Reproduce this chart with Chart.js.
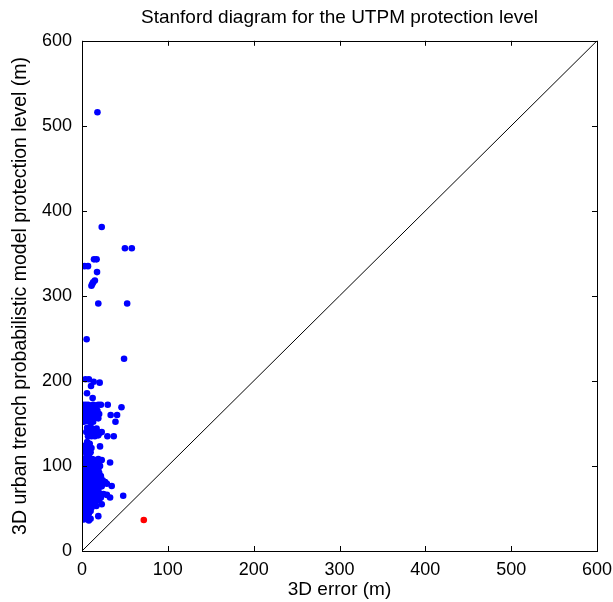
<!DOCTYPE html>
<html>
<head>
<meta charset="utf-8">
<script src="https://cdn.jsdelivr.net/npm/chart.js@4"></script>
<style>
  html, body { margin: 0; padding: 0; background: #fff; }
  #wrap { width: 613px; height: 602px; }
</style>
</head>
<body>
<div id="wrap"><canvas id="stanford"></canvas></div>
<script>
// 3D error (m) and UTPM protection level (m), blue = PL above error
const erroAzul = [
  18, 23, 50, 58, 14, 17, 3, 7, 17.5, 11, 13, 15, 12, 19, 52.6, 5.4, 49,
  4, 8, 13.6, 20.6, 10.5, 5.8, 12.4,
  1, 4, 7, 10, 13, 16, 19, 22, 30, 46,
  1, 4, 8, 11, 15, 18, 2, 6, 9, 13, 17, 20, 1, 4, 8, 12, 16, 19, 2, 6, 10, 13, 33.4, 40.9, 39, 10,
  6, 9, 13, 17, 5, 8, 11, 14, 18, 21, 23, 7, 11, 15, 19, 29.6, 37,
  6, 9, 4, 8, 11, 3, 6, 10, 5, 8, 21,
  2, 5, 8, 12, 15, 19, 23, 32.7,
  1, 4, 7, 10, 14, 17, 20,
  2, 5, 8, 11, 14, 18, 21,
  1, 4, 7, 10, 13, 16, 19,
  2, 5, 8, 11, 14, 17, 20,
  1, 4, 7, 10, 13, 16, 19, 22,
  2, 5, 8, 11, 14, 17, 20, 24, 27,
  1, 4, 7, 10, 13, 16, 19, 22, 29, 34.6,
  2, 5, 8, 11, 14, 17, 20, 23,
  1, 4, 7, 10, 13, 16, 19,
  2, 5, 8, 11, 14, 17, 20, 25, 29, 32.7, 48,
  1, 4, 7, 10, 13, 16, 19, 22,
  2, 5, 8, 11, 14, 17, 20,
  1, 4, 7, 10, 13, 16.7, 23,
  2, 5, 8, 11,
  1, 4, 7, 10,
  2, 5, 8,
  4, 7, 10, 6, 19, 2, 8
];
const plAzul = [
  516, 381, 356, 356, 343, 343, 335, 335, 328, 312, 316, 318, 314, 291, 291, 249, 226,
  202, 202, 199, 198, 194, 185.5, 180,
  172, 172, 172, 171, 172, 171, 172, 172, 172, 169,
  167, 166, 167, 166, 166, 165, 162, 161, 162, 161, 160, 161, 157, 156, 157, 156, 157, 156, 152, 153, 152, 152, 160, 160, 152, 146,
  145, 144, 143, 144, 140, 139, 140, 139, 140, 139, 140, 135, 135, 135, 136, 135, 135,
  128, 126, 124, 122, 121, 118, 117, 116, 114, 112, 123,
  108, 108, 107, 108, 107, 108, 107, 104,
  104, 103, 104, 103, 104, 103, 104,
  100, 99, 100, 99, 100, 99, 100,
  96, 95, 96, 95, 96, 95, 96,
  92, 91, 92, 91, 92, 91, 92,
  88, 87, 88, 87, 88, 87, 88, 88,
  84, 83, 84, 83, 84, 83, 84, 83, 81,
  80, 79, 80, 79, 80, 79, 80, 80, 79, 76.5,
  76, 75, 76, 75, 76, 75, 76, 76,
  72, 71, 72, 71, 72, 71, 72,
  68, 67, 68, 67, 68, 67, 68, 67, 66, 63, 65,
  64, 63, 64, 63, 64, 63, 64, 63,
  60, 59, 60, 59, 60, 59, 60,
  56, 55, 56, 55, 56, 53, 55,
  52, 51, 52, 51,
  48, 47, 48, 47,
  44, 43, 44,
  40, 39, 38, 41, 41, 37, 36
];
// red = misleading information (PL below error)
const erroVermelho = [72];
const plVermelho = [36.5];
const diagonal = [0, 600];
const marcas = [0, 100, 200, 300, 400, 500, 600];

const fonte = '"Liberation Sans", Arial, sans-serif';

const moldura = {
  id: 'moldura',
  afterDraw(chart) {
    const { ctx, chartArea: a, scales: { x, y } } = chart;
    const t = 5;
    ctx.save();
    ctx.strokeStyle = '#000';
    ctx.lineWidth = 1;
    ctx.beginPath();
    marcas.forEach(v => {
      const px = Math.round(x.getPixelForValue(v)) + 0.5;
      ctx.moveTo(px, a.bottom); ctx.lineTo(px, a.bottom - t);
      ctx.moveTo(px, a.top); ctx.lineTo(px, a.top + t);
      const py = Math.round(y.getPixelForValue(v)) + 0.5;
      ctx.moveTo(a.left, py); ctx.lineTo(a.left + t, py);
      ctx.moveTo(a.right, py); ctx.lineTo(a.right - t, py);
    });
    ctx.stroke();
    ctx.strokeRect(Math.round(a.left) + 0.5, Math.round(a.top) + 0.5,
      Math.round(a.right - a.left), Math.round(a.bottom - a.top));
    ctx.restore();
  }
};

new Chart(document.getElementById('stanford'), {
  type: 'scatter',
  data: {
    datasets: [
      {
        label: 'PL > erro',
        data: erroAzul.map((e, i) => ({ x: e, y: plAzul[i] })),
        backgroundColor: '#0000ff',
        borderColor: '#0000ff',
        pointRadius: 3.3,
        borderWidth: 0
      },
      {
        label: 'PL < erro',
        data: erroVermelho.map((e, i) => ({ x: e, y: plVermelho[i] })),
        backgroundColor: '#ff0000',
        borderColor: '#ff0000',
        pointRadius: 3.3,
        borderWidth: 0
      },
      {
        type: 'line',
        label: 'y = x',
        data: diagonal.map(v => ({ x: v, y: v })),
        borderColor: '#000',
        borderWidth: 1,
        pointRadius: 0,
        fill: false
      }
    ]
  },
  options: {
    responsive: true,
    maintainAspectRatio: false,
    animation: false,
    layout: { padding: { left: 0, right: 16, top: 0, bottom: 0 } },
    plugins: {
      legend: { display: false },
      tooltip: { enabled: false },
      title: {
        display: true,
        fullSize: false,
        text: 'Stanford diagram for the UTPM protection level',
        color: '#000',
        font: { family: fonte, size: 19, weight: 'normal' },
        padding: { top: 6, bottom: 12 }
      }
    },
    scales: {
      x: {
        type: 'linear',
        min: 0,
        max: 600,
        afterBuildTicks: s => { s.ticks = marcas.map(v => ({ value: v })); },
        ticks: { color: '#000', font: { family: fonte, size: 18 }, padding: 0 },
        grid: { display: false },
        border: { display: false },
        title: {
          display: true,
          text: '3D error (m)',
          color: '#000',
          font: { family: fonte, size: 19 },
          padding: { top: 0, bottom: 1 }
        },
        afterFit: s => { s.height = 51; }
      },
      y: {
        type: 'linear',
        min: 0,
        max: 600,
        afterBuildTicks: s => { s.ticks = marcas.map(v => ({ value: v })); },
        ticks: { color: '#000', font: { family: fonte, size: 18 }, padding: 2 },
        grid: { display: false },
        border: { display: false },
        title: {
          display: true,
          text: '3D urban trench probabilistic model protection level (m)',
          color: '#000',
          font: { family: fonte, size: 19.5 },
          padding: { top: 9, bottom: 0 }
        },
        afterFit: s => { s.width = 82; }
      }
    }
  },
  plugins: [moldura]
});
</script>
</body>
</html>
